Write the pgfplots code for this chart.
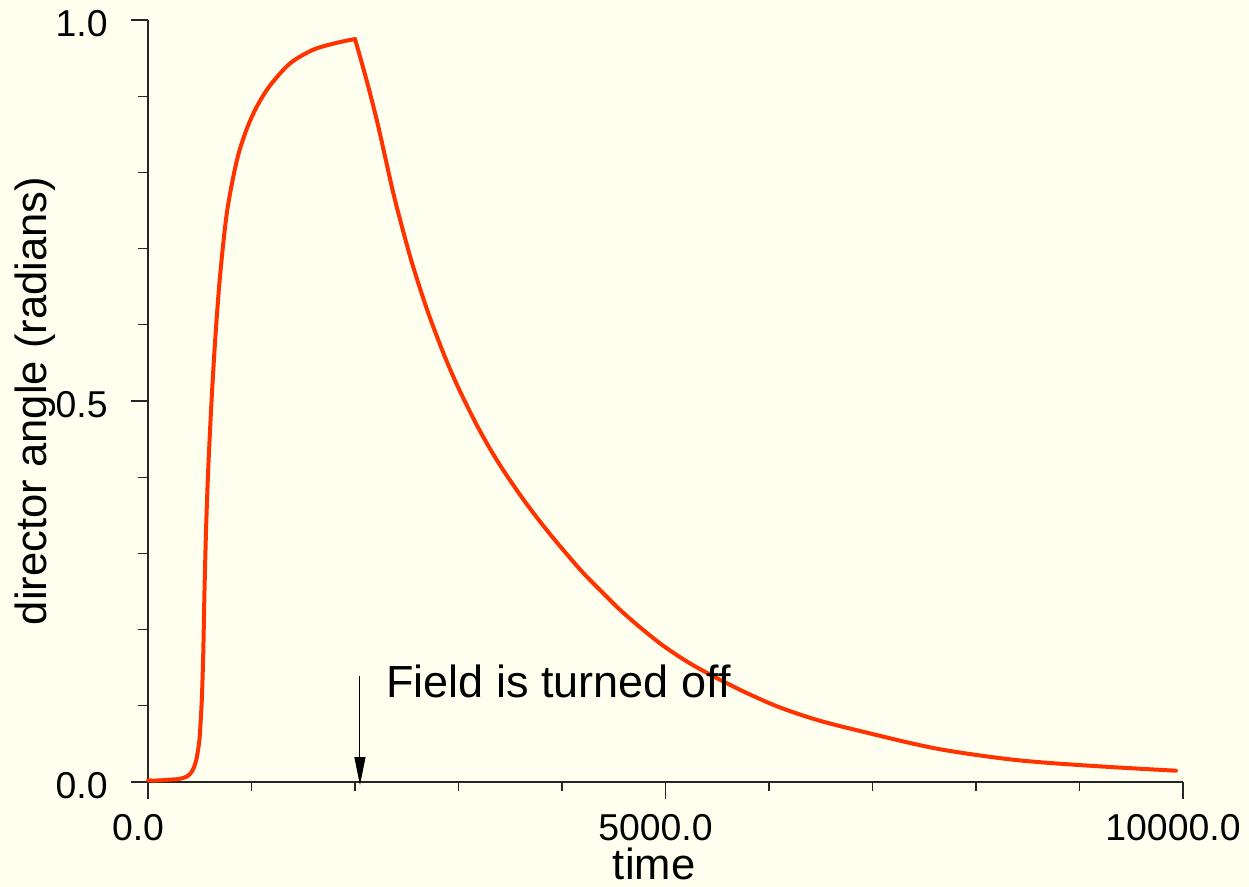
\documentclass[border=0pt]{standalone}
\usepackage{pgfplots}
\pgfplotsset{compat=1.18}
\usepackage{fontspec}
\setmainfont{Liberation Sans}
\usetikzlibrary{arrows.meta}
\definecolor{bg}{RGB}{255,255,240}
\definecolor{curve}{RGB}{255,51,0}
\begin{document}
\begin{tikzpicture}
\fill[bg, use as bounding box] (-74pt,-52.5pt) rectangle (550.5pt,391pt);
\begin{axis}[
  scale only axis, width=517.5pt, height=381pt,
  at={(0,0)}, anchor=south west,
  xmin=0, xmax=10000, ymin=0, ymax=1,
  axis lines=left, axis line style={-, line width=0.7pt, black!85},
  clip=false,
  scaled ticks=false,
  xtick={0,5000,10000}, ytick={0,0.5,1},
  minor x tick num=4, minor y tick num=4,
  tick align=outside,
  major tick length=8.5pt, minor tick length=4.75pt,
  every tick/.style={line width=0.6pt, black!85},
  xticklabel={\pgfmathprintnumber[fixed,fixed zerofill,precision=1,1000 sep={},assume math mode=true]{\tick}},
  yticklabel={\pgfmathprintnumber[fixed,fixed zerofill,precision=1,assume math mode=true]{\tick}},
  tick label style={font=\fontsize{18.7}{22}\selectfont},
  xticklabel style={inner sep=0pt, anchor=north, yshift=-7.5pt, xshift=-5pt},
  yticklabel style={inner sep=0pt, anchor=east, xshift=-11.5pt, yshift=-2pt},
  xlabel={time}, ylabel={director angle (radians)},
  label style={font=\fontsize{21.8}{26}\selectfont},
  xlabel style={at={(axis description cs:0.489,-0.128)}, anchor=base, inner sep=0pt},
  ylabel style={at={(axis description cs:-0.0976,0.5)}, anchor=base, inner sep=0pt},
]
\addplot[color=curve, line width=2pt, line cap=round, line join=round, smooth, tension=0.5] coordinates {
(0,0.002) (100,0.002) (200,0.003) (300,0.004) (374,0.007) (410,0.011)
(440,0.018) (465,0.028) (487,0.045) (500,0.060) (510,0.082) (520,0.108)
(528,0.140) (535,0.175) (544,0.239) (552,0.285) (560,0.327) (571,0.372)
(583,0.414) (596,0.452) (609,0.487) (620,0.515) (641,0.563) (664,0.609)
(689,0.653) (722,0.700) (760,0.745) (809,0.784) (872,0.823) (954,0.857)
(1050,0.886) (1179,0.914) (1372,0.943) (1597,0.961) (1823,0.970) (2000,0.975)
};
\addplot[color=curve, line width=2pt, line cap=round, line join=round, smooth, tension=0.5] coordinates {
(2000,0.975) (2106,0.924) (2210,0.869) (2300,0.815) (2386,0.764) (2536,0.688)
(2686,0.624) (2836,0.569) (2986,0.521) (3186,0.466) (3386,0.419) (3636,0.369)
(3886,0.325) (4174,0.279) (4367,0.252) (4560,0.226) (4763,0.202) (4976,0.179)
(5208,0.158) (5430,0.141) (5750,0.119) (6083,0.099) (6450,0.082) (6847,0.068)
(7611,0.044) (8375,0.029) (9138,0.021) (9932,0.0148)
};
\draw[line width=0.5pt, -{Triangle[length=14pt,width=5.5pt]}] (axis cs:2048,0.139) -- (axis cs:2048,-0.004);
\node[anchor=base west, inner sep=0pt, font=\fontsize{22.5}{26}\selectfont] at (axis cs:2300,0.1115) {Field is turned off};
\end{axis}
\end{tikzpicture}
\end{document}
